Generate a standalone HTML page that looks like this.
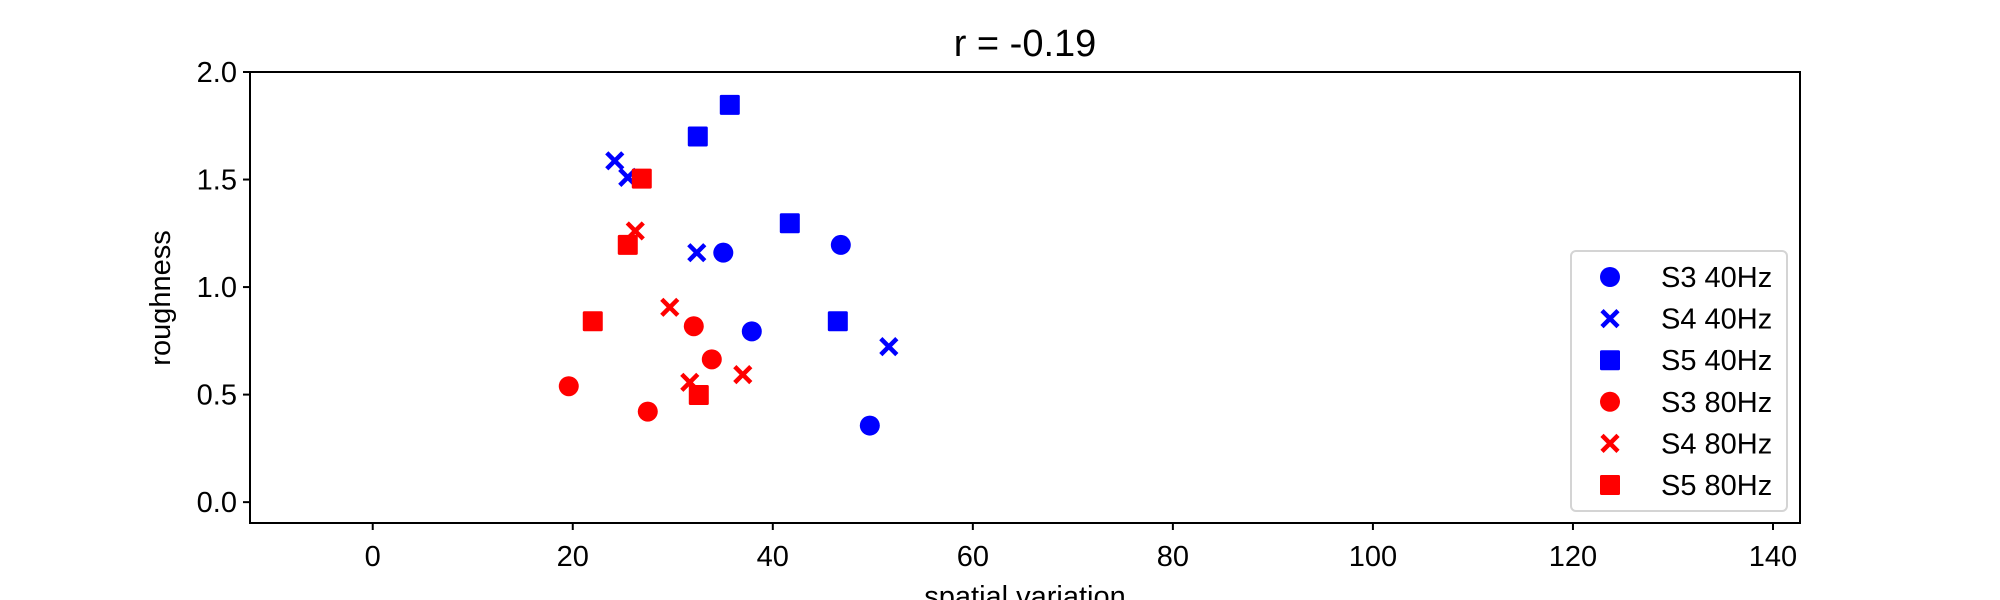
<!DOCTYPE html>
<html><head><meta charset="utf-8"><style>
html,body{margin:0;padding:0;background:#fff;}
svg{display:block;font-family:"Liberation Sans","DejaVu Sans",sans-serif;}
</style></head><body>
<svg id="chart" width="2000" height="600" viewBox="0 0 2000 600">
<rect x="0" y="0" width="2000" height="600" fill="#fff"/>
<text x="1025" y="56" font-size="38" text-anchor="middle">r = -0.19</text>
<g id="marks"></g>
<g id="axes"></g>
<text x="1025" y="606" font-size="29" text-anchor="middle">spatial variation</text>
<text transform="translate(170,298) rotate(-90)" font-size="29" text-anchor="middle">roughness</text>
<g id="legend"></g>
</svg>
<script>
const xTicks = [0,20,40,60,80,100,120,140];
const yTicks = [0.0,0.5,1.0,1.5,2.0];
const yTickLabels = ["0.0","0.5","1.0","1.5","2.0"];
const seriesNames = ["S3 40Hz","S4 40Hz","S5 40Hz","S3 80Hz","S4 80Hz","S5 80Hz"];
const seriesColors = ["#0000ff","#0000ff","#0000ff","#ff0000","#ff0000","#ff0000"];
const seriesMarkers = ["circle","x","square","circle","x","square"];
const s3_40_x = [35.05,46.8,37.9,49.7];
const s3_40_y = [1.16,1.196,0.794,0.356];
const s4_40_x = [24.2,25.5,32.4,51.6];
const s4_40_y = [1.587,1.51,1.16,0.723];
const s5_40_x = [35.7,32.5,41.7,46.5];
const s5_40_y = [1.847,1.70,1.297,0.841];
const s3_80_x = [19.6,27.5,32.1,33.9];
const s3_80_y = [0.539,0.421,0.818,0.664];
const s4_80_x = [26.25,29.7,31.7,37.0];
const s4_80_y = [1.261,0.906,0.557,0.593];
const s5_80_x = [26.9,25.5,22.0,32.6];
const s5_80_y = [1.504,1.196,0.841,0.498];
const seriesX = [s3_40_x,s4_40_x,s5_40_x,s3_80_x,s4_80_x,s5_80_x];
const seriesY = [s3_40_y,s4_40_y,s5_40_y,s3_80_y,s4_80_y,s5_80_y];

const NS = "http://www.w3.org/2000/svg";
const L=250,R=1800,T=72,B=523;
const xMin=-12.27,xMax=142.7,yMin=-0.097,yMax=2.0;
const xs=v=>L+(v-xMin)/(xMax-xMin)*(R-L);
const ys=v=>B-(v-yMin)/(yMax-yMin)*(B-T);
function mk(tag,attrs){const e=document.createElementNS(NS,tag);for(const k in attrs)e.setAttribute(k,attrs[k]);return e;}
function marker(type,cx,cy,color){
  let e;
  if(type==="circle"){e=mk("circle",{cx:cx,cy:cy,r:10,fill:color});}
  else if(type==="square"){e=mk("rect",{x:cx-10,y:cy-10,width:20,height:20,fill:color,rx:1.5});}
  else {e=mk("path",{d:`M${cx-8},${cy-8}L${cx+8},${cy+8}M${cx-8},${cy+8}L${cx+8},${cy-8}`,stroke:color,"stroke-width":4.5,fill:"none"});}
  return e;
}
const marks=document.getElementById("marks");
seriesNames.forEach((n,si)=>{
  const g=mk("g",{});
  
  
  seriesX[si].forEach((xv,i)=>{
    const m=marker(seriesMarkers[si],xs(xv),ys(seriesY[si][i]),seriesColors[si]);
    
    
    g.appendChild(m);
  });
  marks.appendChild(g);
});
const axes=document.getElementById("axes");
const frame=mk("rect",{x:L,y:T,width:R-L,height:B-T,fill:"none",stroke:"#000","stroke-width":2});


axes.appendChild(frame);
xTicks.forEach(v=>{
  const x=xs(v);
  const t=mk("line",{x1:x,x2:x,y1:B,y2:B+7,stroke:"#000","stroke-width":2});
  
  
  axes.appendChild(t);
  const l=mk("text",{x:x,y:B+43,"font-size":29,"text-anchor":"middle"});
  l.textContent=String(v);
  
  
  axes.appendChild(l);
});
yTicks.forEach((v,i)=>{
  const y=ys(v);
  const t=mk("line",{x1:L-7,x2:L,y1:y,y2:y,stroke:"#000","stroke-width":2});
  
  
  axes.appendChild(t);
  const l=mk("text",{x:L-13,y:y+10,"font-size":29,"text-anchor":"end"});
  l.textContent=yTickLabels[i];
  
  
  axes.appendChild(l);
});
const leg=document.getElementById("legend");
const box=mk("rect",{x:1571,y:251,width:216,height:260,rx:5,fill:"#fff","fill-opacity":0.8,stroke:"#d4d4d4","stroke-width":2});


leg.appendChild(box);
seriesNames.forEach((n,i)=>{
  const cy=277+i*41.6;
  const g=mk("g",{});
  
  
  g.appendChild(marker(seriesMarkers[i],1610,cy,seriesColors[i]));
  const t=mk("text",{x:1661,y:cy+10,"font-size":29});
  t.textContent=n;
  g.appendChild(t);
  leg.appendChild(g);
});
</script>
</body></html>
